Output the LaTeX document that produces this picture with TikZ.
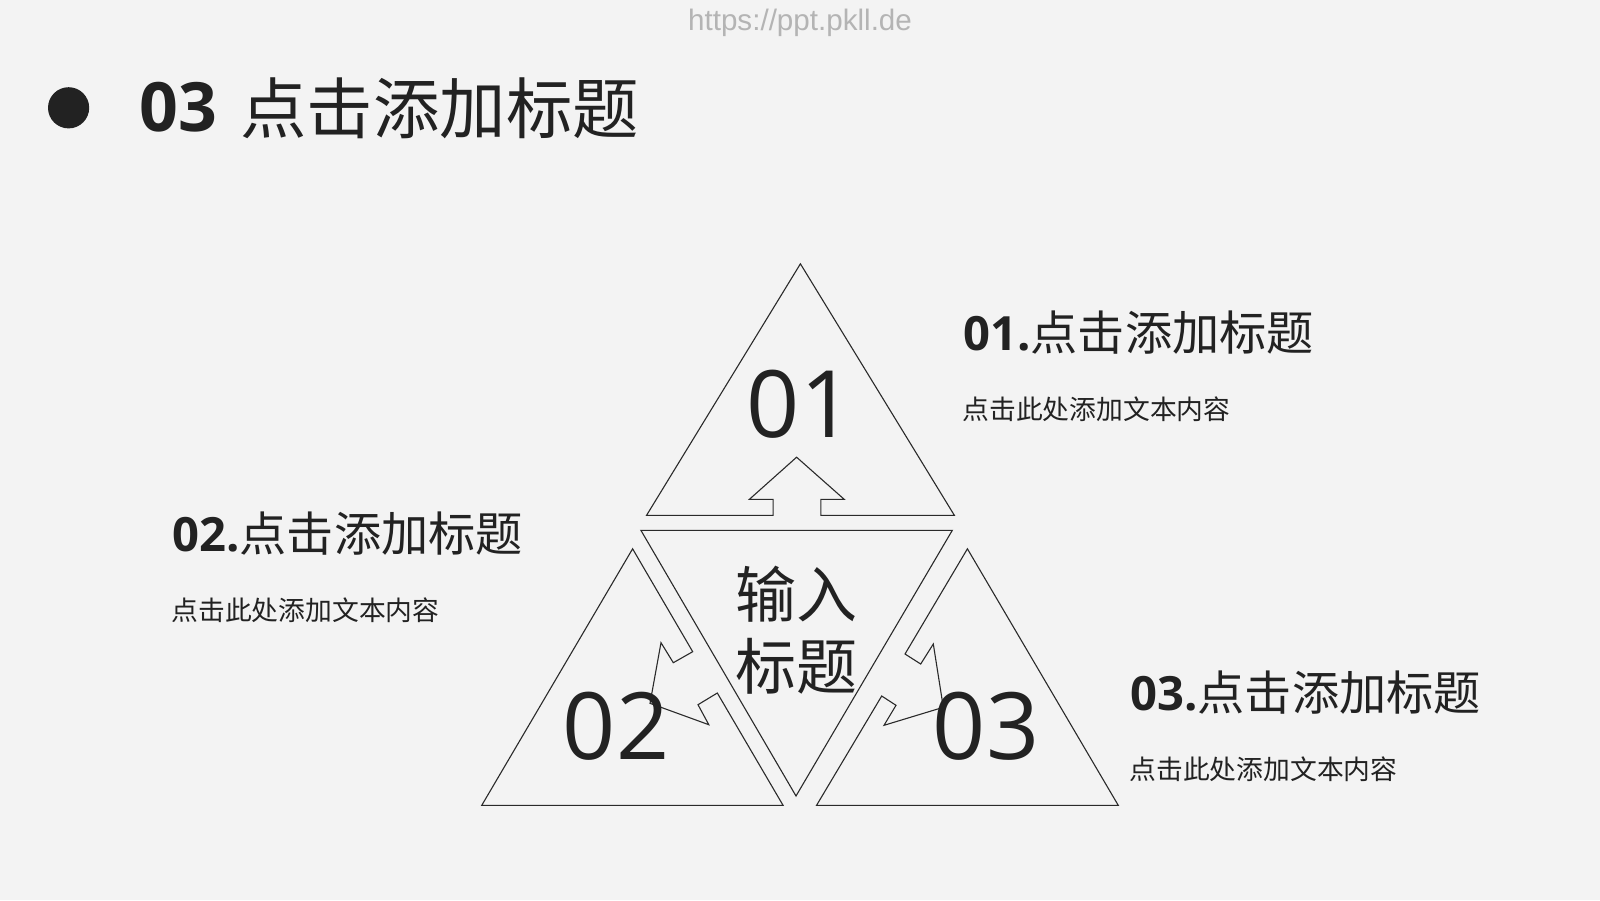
\documentclass[tikz,border=0pt]{standalone}
\usepackage{fontspec}
\setmainfont{Open Sans}
\newfontfamily\cjk{Noto Sans CJK SC}
\definecolor{bg}{HTML}{F3F3F3}
\definecolor{ink}{HTML}{222222}
\definecolor{lin}{HTML}{2A2A2A}
\definecolor{wm}{HTML}{B4B4B4}
\tikzset{
  tri/.style={draw=lin, line width=0.55pt, line join=miter},
  headtxt/.style={anchor=base west, inner sep=0pt, text=ink, font=\fontsize{23.6pt}{28pt}\selectfont},
  subtxt/.style={anchor=west, inner sep=0pt, text=ink, font=\cjk\fontsize{13.4pt}{16pt}\selectfont},
  bignum/.style={anchor=center, inner sep=0pt, text=ink, font=\fontsize{46.5pt}{56pt}\selectfont},
}
\begin{document}
\begin{tikzpicture}[x=0.5pt,y=-0.5pt]
\fill[bg] (0,0) rectangle (1600,900);
\useasboundingbox (0,0) rectangle (1600,900);

% watermark
\node[inner sep=0pt, text=wm, font=\fontspec{Liberation Sans}\fontsize{14.8pt}{17pt}\selectfont] (wmark) at (800,23) {https://ppt.pkll.de};

% title
\fill[ink] (68.6,107.8) circle[radius=10.3pt];
\node[anchor=base west, inner sep=0pt, text=ink, font=\fontsize{34pt}{40pt}\selectfont\bfseries] (tnum) at (139,131.7) {03};
\node[anchor=base west, inner sep=0pt, text=ink, font=\cjk\fontsize{33.2pt}{40pt}\selectfont] (ttext) at (240,133) {点击添加标题};

% top triangle with arrow notch
\draw[tri] (800.4,263.8) -- (954.4,515.4) -- (820.8,515.4) -- (820.8,499.4) -- (844.3,499.4)
  -- (796.6,457.2) -- (749.3,499.4) -- (773.1,499.4) -- (773.1,515.4) -- (646.5,515.4) -- cycle;

% centre inverted triangle
\draw[tri] (640.9,530.3) -- (952.3,530.3) -- (796,796) -- cycle;

% left triangle
\draw[tri] (632.6,548.8) -- (692.7,651.7) -- (673.3,662.7) -- (661,642.7) -- (650,703.3)
  -- (708.8,724.7) -- (698,704.7) -- (717.3,693) -- (783.1,805.4) -- (481.7,805.4) -- cycle;

% right triangle
\draw[tri] (967.4,548.8) -- (1118.3,805.4) -- (816.5,805.4) -- (881.7,696) -- (896,705.3)
  -- (884,725.3) -- (943.3,707.3) -- (933.3,644) -- (920.7,664) -- (905,654) -- cycle;

% big numbers
\node[bignum] (n1) at (800,404) {01};
\node[bignum] (n2) at (616,726) {02};
\node[bignum] (n3) at (986,726) {03};

% centre text
\node[anchor=center, inner sep=0pt, align=center, text=ink, font=\cjk\fontsize{30.5pt}{36pt}\selectfont] (ctext) at (796,630) {输入\\标题};

% headings and sub-texts
\node[headtxt] (h1) at (963,350) {\textbf{01.}{\cjk 点击添加标题}};
\node[subtxt] (s1) at (962,409) {点击此处添加文本内容};
\node[headtxt] (h2) at (172,551.7) {\textbf{02.}{\cjk 点击添加标题}};
\node[subtxt] (s2) at (171,610) {点击此处添加文本内容};
\node[headtxt] (h3) at (1130,710) {\textbf{03.}{\cjk 点击添加标题}};
\node[subtxt] (s3) at (1129,769) {点击此处添加文本内容};
\end{tikzpicture}
\end{document}
